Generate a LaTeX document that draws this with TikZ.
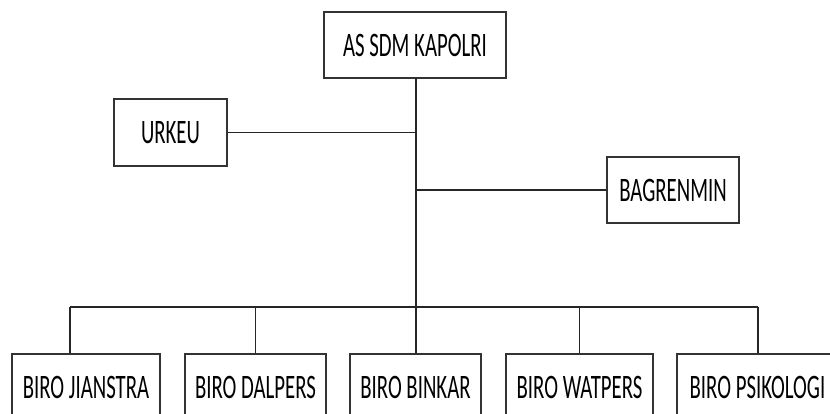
\documentclass[tikz,border=0pt]{standalone}
\usepackage{fontspec}
\setmainfont{Carlito}
\usepackage{graphicx}
\newcommand{\stxt}[1]{\scalebox{1}[1.65]{\fontsize{20.8}{24}\selectfont #1}}
\begin{document}
\begin{tikzpicture}[x=1pt,y=-1pt,
  orgbox/.style={draw=black!80,line width=1.5pt,fill=white,inner sep=0pt,
    minimum height=66pt,text=black},
  link/.style={draw=black!85,line width=1.6pt}]
\useasboundingbox (0,0) rectangle (830,414);
\clip (0,0) rectangle (830,414);
\node[orgbox,minimum width=182pt] (as) at (415,45) {\stxt{AS SDM KAPOLRI}};
\node[orgbox,minimum width=113pt,minimum height=67pt] (urkeu) at (170.5,132.5) {\stxt{URKEU}};
\node[orgbox,minimum width=132pt] (bag) at (673,190) {\stxt{BAGRENMIN}};
\node[orgbox,minimum width=148pt] (jian) at (86,387) {\stxt{BIRO JIANSTRA}};
\node[orgbox,minimum width=141pt] (dal) at (255.5,387) {\stxt{BIRO DALPERS}};
\node[orgbox,minimum width=131pt] (bin) at (415.5,387) {\stxt{BIRO BINKAR}};
\node[orgbox,minimum width=147pt] (wat) at (579.5,387) {\stxt{BIRO WATPERS}};
\node[orgbox,minimum width=161pt] (psi) at (757.5,387) {\stxt{BIRO PSIKOLOGI}};
\coordinate (busL) at (70,307);
\coordinate (busR) at (758,307);
\coordinate (busM) at (416,307);
\coordinate (top) at (416,78);
\draw[link] (top) -- (busM);
\draw[link] (urkeu.east) -- (urkeu.east -| top);
\draw[link] (bag.west) -- (bag.west -| top);
\draw[link] (busL) -- (busR);
\draw[link] (busL) -- (busL |- jian.north);
\draw[link] (dal.north) -- (dal.north |- busL);
\draw[link] (bin.north -| busM) -- (busM);
\draw[link] (wat.north) -- (wat.north |- busL);
\draw[link] (busR) -- (busR |- psi.north);
\end{tikzpicture}
\end{document}
